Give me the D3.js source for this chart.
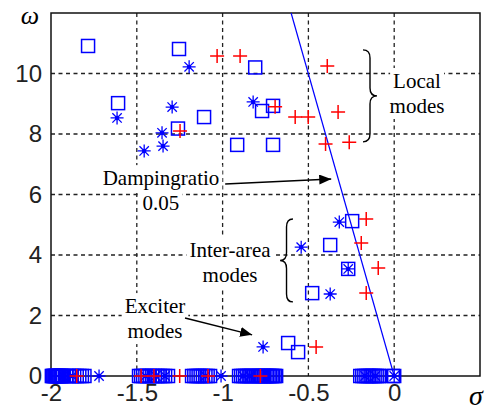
<!DOCTYPE html>
<html><head><meta charset="utf-8">
<script src="https://cdn.jsdelivr.net/npm/d3@7"></script>
<style>body{margin:0;background:#fff}</style>
</head><body><svg id="c" width="488" height="410"></svg>
<script>
// ---- data ----
const xTicks = [-2, -1.5, -1, -0.5, 0];
const xTickLabels = ["-2", "-1.5", "-1", "-0.5", "0"];
const yTicks = [0, 2, 4, 6, 8, 10];
const yTickLabels = ["0", "2", "4", "6", "8", "10"];
const dampingRatio = 0.05;

// oscillatory modes (sigma, omega)
const squareSigma = [-1.784, -1.609, -1.254, -1.26, -1.108, -0.915, -0.81, -0.77, -0.706, -0.706, -0.245, -0.373, -0.268, -0.478, -0.618, -0.56];
const squareOmega = [10.91, 9.02, 10.81, 8.18, 8.56, 7.64, 10.2, 8.76, 8.93, 7.64, 5.12, 4.33, 3.54, 2.74, 1.09, 0.79];
const starSigma = [-1.615, -1.294, -1.353, -1.347, -1.457, -1.195, -0.822, -0.32, -0.542, -0.268, -0.373, -0.764];
const starOmega = [8.53, 8.89, 8.04, 7.6, 7.44, 10.22, 9.06, 5.09, 4.26, 3.54, 2.71, 0.96];
const plusSigma = [-1.032, -0.898, -1.248, -0.694, -0.577, -0.501, -0.39, -0.327, -0.40, -0.262, -0.163, -0.192, -0.093, -0.163, -0.455];
const plusOmega = [10.58, 10.58, 8.1, 8.9, 8.56, 8.56, 10.25, 8.73, 7.67, 7.73, 5.19, 4.4, 3.57, 2.74, 0.96];

// real (non-oscillatory) modes at omega = 0
const squareZeroSigma = [
  -1.995, -1.99, -1.985, -1.98, -1.975, -1.97, -1.965, -1.96, -1.955, -1.95, -1.945, -1.94, -1.935, -1.93,
  -1.91, -1.895, -1.88, -1.865, -1.85, -1.835, -1.82, -1.805,
  -1.487, -1.475, -1.463, -1.45, -1.438, -1.425, -1.41, -1.395, -1.38, -1.365, -1.35, -1.335, -1.318,
  -1.178, -1.165, -1.152, -1.14, -1.128, -1.115, -1.10, -1.087, -1.073,
  -0.904, -0.892, -0.88, -0.868, -0.856, -0.844, -0.832, -0.82, -0.808, -0.795,
  -0.786, -0.777, -0.768, -0.759, -0.75, -0.741, -0.732, -0.723, -0.714, -0.705, -0.696, -0.688,
  -0.198, -0.186, -0.174, -0.162, -0.15, -0.138, -0.126, -0.114, -0.102, -0.09, -0.087,
  -0.008, 0.0];
const starZeroSigma = [-1.93, -1.875, -1.72, -1.45, -1.39, -1.335, -1.10, -1.009, -0.88, -0.84, -0.17, -0.11, 0.0];
const plusZeroSigma = [-1.85, -1.475, -1.40, -1.25, -1.085, -0.78];

// annotations (data units)
const labelTexts = [["Dampingratio", "0.05"], ["Local", "modes"], ["Inter-area", "modes"], ["Exciter", "modes"]];
const labelSigma = [-1.359, 0.133, -0.957, -1.394];
const labelOmega = [6.31, 9.52, 3.93, 2.08];
const arrowFrom = [[-0.985, 6.35], [-1.219, 1.92]];
const arrowTo = [[-0.367, 6.51], [-0.828, 1.36]];
const braceEnds = [-0.182, -0.590];
const braceTip = [-0.10, -0.665];
const braceTop = [10.78, 5.19];
const braceBottom = [7.74, 2.45];

// ---- chart ----
const svg = d3.select("#c");
const x = d3.scaleLinear([-2, 0.5], [51, 480]);
const y = d3.scaleLinear([0, 12], [376, 13]);
const BLUE = "#0000ff", RED = "#ff0000";
const serif = "'Liberation Serif','Times New Roman',serif";
const sans = "'Liberation Sans',Arial,sans-serif";

// grid
const g = svg.append("g");
g.selectAll("line.vg").data(xTicks.slice(1)).join("line")
  .attr("x1", d => x(d)).attr("x2", d => x(d)).attr("y1", y(12)).attr("y2", y(0))
  .attr("stroke", "#222").attr("stroke-width", 1.3).attr("stroke-dasharray", "4,3.5");
g.selectAll("line.hg").data(yTicks.slice(1)).join("line")
  .attr("y1", d => y(d)).attr("y2", d => y(d)).attr("x1", x(-2)).attr("x2", x(0.5))
  .attr("stroke", "#222").attr("stroke-width", 1.3).attr("stroke-dasharray", "4,3.5");

// frame
svg.append("rect").attr("x", x(-2)).attr("y", y(12)).attr("width", x(0.5) - x(-2)).attr("height", y(0) - y(12))
  .attr("fill", "none").attr("stroke", "#111").attr("stroke-width", 1.5);

// axes tick labels
const xa = svg.append("g").attr("transform", `translate(0,${y(0)})`)
  .call(d3.axisBottom(x).tickValues(xTicks).tickSize(0).tickPadding(8).tickFormat((d, i) => xTickLabels[i]));
xa.select(".domain").remove();
xa.selectAll("text").attr("font-family", sans).attr("font-size", 24).attr("fill", "#222");
const ya = svg.append("g").attr("transform", `translate(${x(-2)},0)`)
  .call(d3.axisLeft(y).tickValues(yTicks).tickSize(0).tickPadding(9).tickFormat((d, i) => yTickLabels[i]));
ya.select(".domain").remove();
ya.selectAll("text").attr("font-family", sans).attr("font-size", 24).attr("fill", "#222");

svg.append("text").attr("x", 30).attr("y", 23.5).attr("text-anchor", "middle")
  .attr("font-family", serif).attr("font-style", "italic").attr("font-size", 26).text("ω");
svg.append("text").attr("x", 476).attr("y", 405).attr("text-anchor", "middle")
  .attr("font-family", serif).attr("font-style", "italic").attr("font-size", 28).text("σ");

// damping ratio line
const k = dampingRatio / Math.sqrt(1 - dampingRatio * dampingRatio);
svg.append("line").attr("x1", x(0)).attr("y1", y(0)).attr("x2", x(-k * 12)).attr("y2", y(12))
  .attr("stroke", BLUE).attr("stroke-width", 1.2);

// markers
const mk = svg.append("g");
const sq = 13;
function squares(sig, om) {
  mk.append("g").selectAll("rect").data(sig.map((s, i) => [s, om[i]])).join("rect")
    .attr("x", d => x(d[0]) - sq / 2).attr("y", d => y(d[1]) - sq / 2)
    .attr("width", sq).attr("height", sq).attr("fill", "none").attr("stroke", BLUE).attr("stroke-width", 1.5);
}
function stars(sig, om) {
  const r = 6.5, r2 = r * 0.72;
  const p = `M${-r},0H${r}M0,${-r}V${r}M${-r2},${-r2}L${r2},${r2}M${-r2},${r2}L${r2},${-r2}`;
  const gg = mk.append("g").selectAll("g").data(sig.map((s, i) => [s, om[i]])).join("g")
    .attr("transform", d => `translate(${x(d[0])},${y(d[1])})`);
  gg.append("path").attr("d", p).attr("stroke", BLUE).attr("stroke-width", 1.3).attr("fill", "none");
  gg.append("circle").attr("r", 2.2).attr("fill", BLUE);
}
function pluses(sig, om) {
  const r = 7;
  mk.append("g").selectAll("path").data(sig.map((s, i) => [s, om[i]])).join("path")
    .attr("transform", d => `translate(${x(d[0])},${y(d[1])})`)
    .attr("d", `M${-r},0H${r}M0,${-r}V${r}`).attr("stroke", RED).attr("stroke-width", 1.5).attr("fill", "none");
}
squares(squareSigma, squareOmega);
squares(squareZeroSigma, squareZeroSigma.map(() => 0));
stars(starSigma, starOmega);
stars(starZeroSigma, starZeroSigma.map(() => 0));
pluses(plusSigma, plusOmega);
pluses(plusZeroSigma, plusZeroSigma.map(() => 0));

// annotation labels with white backgrounds
const ann = svg.append("g");
labelTexts.forEach((lines, i) => {
  lines.forEach((t, j) => {
    const tx = ann.append("text").attr("x", x(labelSigma[i])).attr("y", y(labelOmega[i]) + j * 25)
      .attr("text-anchor", "middle").attr("font-family", serif).attr("font-size", 21).attr("fill", "#000").text(t);
    const bb = tx.node().getBBox();
    ann.insert("rect", "text").attr("x", bb.x - 3).attr("y", bb.y - 1).attr("width", bb.width + 6).attr("height", bb.height + 2)
      .attr("fill", "#fff");
  });
});
ann.selectAll("text").raise();

// arrows
svg.append("defs").append("marker").attr("id", "ah").attr("viewBox", "0 0 12 10")
  .attr("refX", 12).attr("refY", 5).attr("markerWidth", 12).attr("markerHeight", 10)
  .attr("markerUnits", "userSpaceOnUse").attr("orient", "auto")
  .append("path").attr("d", "M0,0L12,5L0,10Z").attr("fill", "#000");
arrowFrom.forEach((a, i) => {
  svg.append("line").attr("x1", x(a[0])).attr("y1", y(a[1])).attr("x2", x(arrowTo[i][0])).attr("y2", y(arrowTo[i][1]))
    .attr("stroke", "#000").attr("stroke-width", 1.5).attr("marker-end", "url(#ah)");
});

// braces
braceEnds.forEach((e, i) => {
  const a = x(e), b = x(braceTip[i]), m = (a + b) / 2;
  const t = y(braceTop[i]), bo = y(braceBottom[i]), c = (t + bo) / 2, r = 8;
  const d = `M${a},${t}Q${m},${t} ${m},${t + r}L${m},${c - r}Q${m},${c} ${b},${c}Q${m},${c} ${m},${c + r}L${m},${bo - r}Q${m},${bo} ${a},${bo}`;
  svg.append("path").attr("d", d).attr("fill", "none").attr("stroke", "#000").attr("stroke-width", 1.4);
});
</script>
</body></html>
